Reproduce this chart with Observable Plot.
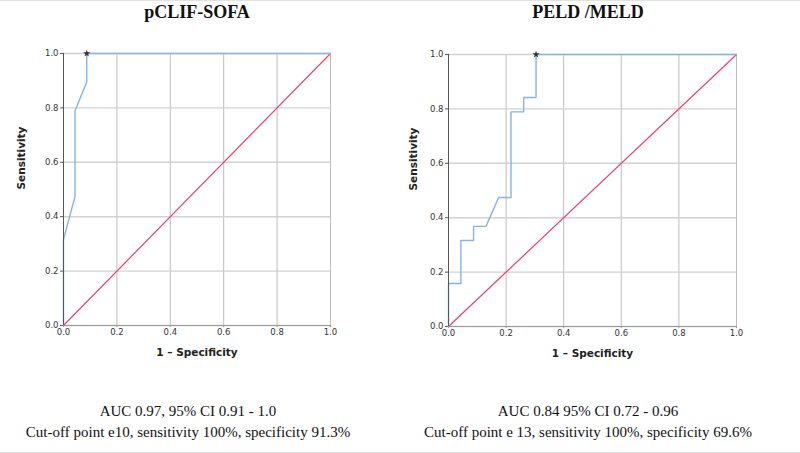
<!DOCTYPE html>
<html>
<head>
<meta charset="utf-8">
<script src="https://cdn.jsdelivr.net/npm/d3@7"></script>
<script src="https://cdn.jsdelivr.net/npm/@observablehq/plot@0.6"></script>
<style>
  html, body { margin: 0; padding: 0; background: #fff; }
  #wrap { position: relative; width: 800px; height: 453px; overflow: hidden; box-sizing: border-box;
          border-top: 1px solid #e2e2e2; border-bottom: 1px solid #e2e2e2; }
  .title { position: absolute; font-family: "Liberation Serif", serif; font-weight: bold; font-size: 18px;
           color: #111; transform: translateX(-50%); white-space: nowrap; }
  .cap { position: absolute; font-family: "Liberation Serif", serif; font-size: 15px; color: #111;
         transform: translateX(-50%); white-space: nowrap; text-align: center; line-height: 21px; }
  .plot { position: absolute; }
</style>
</head>
<body>
<div id="wrap"></div>
<script>
// ---- data ----
const titles = ["pCLIF-SOFA", "PELD /MELD"];
const captions = [
  ["AUC 0.97, 95% CI 0.91 - 1.0", "Cut-off point e10, sensitivity 100%, specificity 91.3%"],
  ["AUC 0.84 95% CI 0.72 - 0.96", "Cut-off point e 13, sensitivity 100%, specificity 69.6%"]
];
const axisTicks = [0, 0.2, 0.4, 0.6, 0.8, 1.0];
const xLabel = "1 \u2013 Specificity";
const yLabel = "Sensitivity";

const sofaFPR = [0, 0, 0.043, 0.043, 0.087, 0.087, 1];
const sofaTPR = [0, 0.316, 0.474, 0.789, 0.895, 1, 1];
const sofaCut = [0.087, 1];

const meldFPR = [0, 0, 0.043, 0.043, 0.087, 0.087, 0.130, 0.174, 0.217, 0.217, 0.261, 0.261, 0.304, 0.304, 1];
const meldTPR = [0, 0.158, 0.158, 0.316, 0.316, 0.368, 0.368, 0.474, 0.474, 0.789, 0.789, 0.842, 0.842, 1, 1];
const meldCut = [0.304, 1];

const refFPR = [0, 1];
const refTPR = [0, 1];

// ---- build ----
const wrap = document.getElementById("wrap");

function rocPlot(fpr, tpr, cut, mL, mR) {
  const curve = fpr.map((x, i) => ({x, y: tpr[i]}));
  const ref = refFPR.map((x, i) => ({x, y: refTPR[i]}));
  return Plot.plot({
    width: mL + mR.w + mR.r,
    height: 12 + 272 + 42,
    marginLeft: mL,
    marginRight: mR.r,
    marginTop: 12,
    marginBottom: 42,
    x: {domain: [0, 1]},
    y: {domain: [0, 1]},
    style: {fontFamily: "DejaVu Sans, sans-serif", fontSize: "8.5px", color: "#333", background: "white"},
    marks: [
      Plot.gridX(axisTicks, {stroke: "#bdbdbd", strokeOpacity: 1, strokeWidth: 1}),
      Plot.gridY(axisTicks, {stroke: "#d2d2d2", strokeOpacity: 1, strokeWidth: 1.4}),
      Plot.axisX(axisTicks, {tickFormat: d3.format(".1f"), tickSize: 2, tickPadding: 1.5, label: null, stroke: "#999"}),
      Plot.axisY(axisTicks, {tickFormat: d3.format(".1f"), tickSize: 3, tickPadding: 2, label: null, stroke: "#555"}),
      Plot.ruleY([0], {stroke: "#9a9a9a", strokeWidth: 1.2}),
      Plot.line(ref, {x: "x", y: "y", stroke: "#e8436e", strokeWidth: 1.2}),
      Plot.line(curve, {x: "x", y: "y", stroke: "#85b3ea", strokeWidth: 1.4}),
      Plot.ruleX([0], {stroke: "#555", strokeWidth: 1}),
      Plot.dot([{x: cut[0], y: cut[1]}], {x: "x", y: "y", symbol: "star", r: 2.3, fill: "#333", stroke: null}),
      Plot.text([xLabel], {frameAnchor: "bottom", dy: 30, fontWeight: "bold", fontSize: 10.5, fill: "#222"}),
      Plot.text([yLabel], {frameAnchor: "left", dx: -mR.ylab, rotate: -90, fontWeight: "bold", fontSize: 10.5, fill: "#222"})
    ]
  });
}

function place(el, left, top) {
  el.classList.add("plot");
  el.style.left = left + "px";
  el.style.top = top + "px";
  wrap.appendChild(el);
}

// left panel: plot area x 63..330, y 52..324
const p1 = rocPlot(sofaFPR, sofaTPR, sofaCut, 48, {w: 267, r: 10, ylab: 42});
place(p1, 63 - 48, 52 - 12);
// right panel: plot area x 448..736, y 53..326
const p2 = rocPlot(meldFPR, meldTPR, meldCut, 48, {w: 288, r: 10, ylab: 35});
place(p2, 448 - 48, 53 - 12);

function addText(cls, text, cx, top) {
  const d = document.createElement("div");
  d.className = cls;
  d.style.left = cx + "px";
  d.style.top = top + "px";
  d.innerHTML = text;
  wrap.appendChild(d);
}
addText("title", titles[0], 197, 1);
addText("title", titles[1], 588, 1);
addText("cap", captions[0].join("<br>"), 188, 400);
addText("cap", captions[1].join("<br>"), 588, 400);
</script>
</body>
</html>
